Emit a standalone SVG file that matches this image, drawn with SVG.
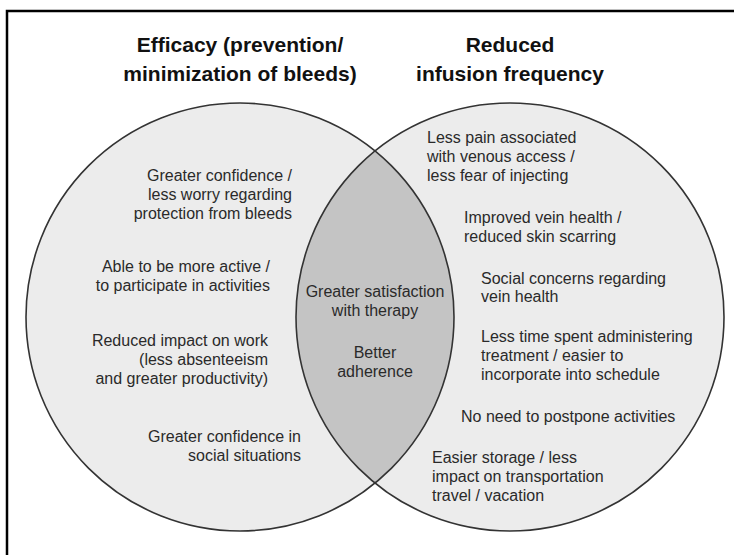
<svg xmlns="http://www.w3.org/2000/svg" width="734" height="555" viewBox="0 0 734 555">
<style>
.bg{fill:#ffffff}
.frame{fill:none;stroke:#000;stroke-width:2.5}
.circ{fill:#ececec;stroke:none}
.lensf{fill:#c4c4c4;stroke:none}
.outline{fill:none;stroke:#333;stroke-width:1.6}
.title{font-family:"Liberation Sans",Arial,sans-serif;font-weight:bold;font-size:21px;fill:#111;text-anchor:middle}
.t{font-family:"Liberation Sans",Arial,sans-serif;font-size:16px;fill:#2a2a2a}
.r{text-anchor:end}
.l{text-anchor:start}
.c{text-anchor:middle}
</style>
<rect class="bg" x="0" y="0" width="734" height="555"/>
<rect class="frame" x="7" y="11" width="740" height="560"/>
<g id="titles">
<text class="title" x="240" y="52">Efficacy (prevention/</text>
<text class="title" x="240" y="81">minimization of bleeds)</text>
<text class="title" x="510" y="52">Reduced</text>
<text class="title" x="510" y="81">infusion frequency</text>
</g>
<g id="set-efficacy">
<circle class="circ" cx="240" cy="317" r="214"/>
</g>
<g id="set-frequency">
<circle class="circ" cx="510" cy="317" r="214"/>
</g>
<g id="intersection">
<path class="lensf" d="M375 151 A214 214 0 0 1 375 483 A214 214 0 0 1 375 151 Z"/>
</g>
<g id="outlines">
<circle class="outline" cx="240" cy="317" r="214"/>
<circle class="outline" cx="510" cy="317" r="214"/>
</g>
<g id="connectors"></g>
<g id="left-items" class="t r">
<text class="t r" x="292" y="181">Greater confidence /</text>
<text class="t r" x="292" y="200">less worry regarding</text>
<text class="t r" x="292" y="219">protection from bleeds</text>
<text class="t r" x="270" y="272">Able to be more active /</text>
<text class="t r" x="270" y="291">to participate in activities</text>
<text class="t r" x="268" y="346">Reduced impact on work</text>
<text class="t r" x="268" y="365">(less absenteeism</text>
<text class="t r" x="268" y="384">and greater productivity)</text>
<text class="t r" x="301" y="442">Greater confidence in</text>
<text class="t r" x="301" y="461">social situations</text>
</g>
<g id="shared-items">
<text class="t c" x="375" y="297">Greater satisfaction</text>
<text class="t c" x="375" y="316">with therapy</text>
<text class="t c" x="375" y="358">Better</text>
<text class="t c" x="375" y="377">adherence</text>
</g>
<g id="right-items">
<text class="t l" x="427" y="143">Less pain associated</text>
<text class="t l" x="427" y="162">with venous access /</text>
<text class="t l" x="427" y="181">less fear of injecting</text>
<text class="t l" x="464" y="223">Improved vein health /</text>
<text class="t l" x="464" y="242">reduced skin scarring</text>
<text class="t l" x="481" y="284">Social concerns regarding</text>
<text class="t l" x="481" y="302">vein health</text>
<text class="t l" x="481" y="342">Less time spent administering</text>
<text class="t l" x="481" y="361">treatment / easier to</text>
<text class="t l" x="481" y="380">incorporate into schedule</text>
<text class="t l" x="461" y="422">No need to postpone activities</text>
<text class="t l" x="432" y="463">Easier storage / less</text>
<text class="t l" x="432" y="482">impact on transportation</text>
<text class="t l" x="432" y="501">travel / vacation</text>
</g>
</svg>
